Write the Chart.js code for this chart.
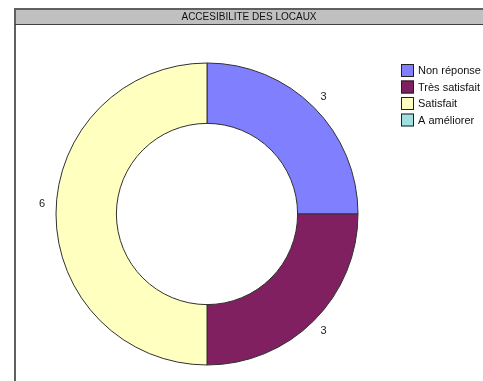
<!DOCTYPE html>
<html>
<head>
<meta charset="utf-8">
<script src="https://cdn.jsdelivr.net/npm/chart.js@4"></script>
<style>
	html, body { margin: 0; padding: 0; background: #ffffff; }
	#wrap { position: relative; width: 483px; height: 381px; }
</style>
</head>
<body>
<div id="wrap"><canvas id="chart" width="483" height="381"></canvas></div>
<script>
var titre = 'ACCESIBILITE DES LOCAUX';
var categories = ['Non réponse', 'Très satisfait', 'Satisfait', 'A améliorer'];
var valeurs = [3, 3, 6, 0];
var couleurs = ['#8080ff', '#802060', '#ffffc0', '#a0e0e0'];

var police = '"Liberation Sans", Arial, sans-serif';

// cadre gris + bandeau de titre
var cadrePlugin = {
	id: 'cadre',
	beforeDraw: function (chart) {
		var ctx = chart.ctx;
		ctx.save();
		ctx.fillStyle = '#c0c0c0';
		ctx.fillRect(15, 9, 468, 15);
		ctx.strokeStyle = '#606060';
		ctx.lineWidth = 2;
		ctx.beginPath();
		ctx.moveTo(15, 381);
		ctx.lineTo(15, 9);
		ctx.lineTo(483, 9);
		ctx.stroke();
		ctx.lineWidth = 1;
		ctx.strokeStyle = '#404040';
		ctx.beginPath();
		ctx.moveTo(15, 24.5);
		ctx.lineTo(483, 24.5);
		ctx.stroke();
		ctx.fillStyle = '#111111';
		ctx.font = '10px ' + police;
		ctx.textAlign = 'center';
		ctx.textBaseline = 'middle';
		ctx.fillText(titre, 249, 17);
		ctx.restore();
	}
};

// valeurs à l'extérieur de l'anneau + légende à droite
var etiquettesPlugin = {
	id: 'etiquettes',
	afterDraw: function (chart) {
		var ctx = chart.ctx;
		var meta = chart.getDatasetMeta(0);
		ctx.save();
		ctx.font = '11px ' + police;
		ctx.fillStyle = '#222222';
		ctx.textAlign = 'center';
		ctx.textBaseline = 'middle';
		meta.data.forEach(function (arc, i) {
			if (!valeurs[i]) return;
			var p = arc.getProps(['x', 'y', 'startAngle', 'endAngle', 'outerRadius']);
			var a = (p.startAngle + p.endAngle) / 2;
			var r = p.outerRadius + 14;
			// les étiquettes sur le côté remontent un peu
			var dy = Math.abs(Math.cos(a)) > 0.9 ? -10 : 0;
			ctx.fillText(String(valeurs[i]), p.x + Math.cos(a) * r, p.y + Math.sin(a) * r + dy);
		});

		ctx.textAlign = 'left';
		categories.forEach(function (nom, i) {
			var y = 64 + i * 16.5;
			ctx.fillStyle = couleurs[i];
			ctx.fillRect(401, y, 13, 13);
			ctx.strokeStyle = '#202020';
			ctx.lineWidth = 1;
			ctx.strokeRect(401.5, y + 0.5, 12, 12);
			ctx.fillStyle = '#111111';
			ctx.fillText(nom, 418, y + 7);
		});
		ctx.restore();
	}
};

new Chart(document.getElementById('chart').getContext('2d'), {
	type: 'doughnut',
	data: {
		labels: categories,
		datasets: [{
			data: valeurs,
			backgroundColor: couleurs,
			borderColor: '#303030',
			borderWidth: 1
		}]
	},
	options: {
		responsive: false,
		animation: false,
		cutout: '60%',
		layout: {
			padding: { left: 55.5, top: 62.5, right: 124.5, bottom: 15.5 }
		},
		plugins: {
			legend: { display: false },
			tooltip: { enabled: false },
			title: { display: false }
		}
	},
	plugins: [cadrePlugin, etiquettesPlugin]
});
</script>
</body>
</html>
